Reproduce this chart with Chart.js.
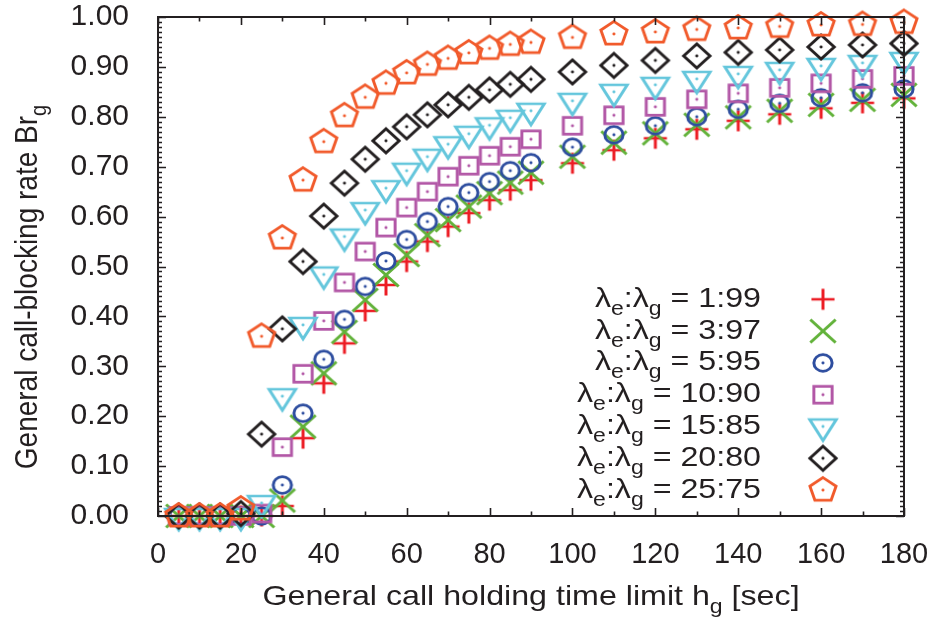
<!DOCTYPE html>
<html>
<head>
<meta charset="utf-8">
<script src="https://cdn.jsdelivr.net/npm/chart.js@4.4.1/dist/chart.umd.min.js"></script>
<style>
  html, body { margin: 0; padding: 0; background: #fff; }
  canvas { display: block; }
</style>
</head>
<body>
<canvas id="myChart" width="938" height="619"></canvas>
<script>
// holding time limit h_g [sec]
const holdLimits = [5, 10, 15, 20, 25, 30, 35, 40, 45, 50, 55, 60, 65, 70, 75, 80, 85, 90,
                    100, 110, 120, 130, 140, 150, 160, 170, 180];

// blocking rate Br_g for each λe:λg ratio
const br1_99  = [0, 0, 0, 0, 0, 0.020, 0.156, 0.266, 0.346, 0.411, 0.463, 0.510, 0.550, 0.580, 0.607, 0.633, 0.653, 0.673,
                 0.707, 0.733, 0.757, 0.775, 0.792, 0.805, 0.817, 0.828, 0.837];
const br3_97  = [0, 0, 0, 0, 0, 0.031, 0.179, 0.286, 0.369, 0.433, 0.483, 0.523, 0.563, 0.593, 0.620, 0.647, 0.668, 0.688,
                 0.720, 0.748, 0.767, 0.784, 0.799, 0.812, 0.824, 0.834, 0.844];
const br5_95  = [0, 0, 0, 0, 0, 0.062, 0.206, 0.314, 0.394, 0.460, 0.511, 0.554, 0.590, 0.620, 0.648, 0.670, 0.692, 0.708,
                 0.739, 0.764, 0.782, 0.800, 0.815, 0.827, 0.838, 0.848, 0.856];
const br10_90 = [0, 0, 0, 0, 0.005, 0.138, 0.285, 0.391, 0.468, 0.530, 0.578, 0.618, 0.650, 0.680, 0.702, 0.722, 0.740, 0.755,
                 0.782, 0.803, 0.820, 0.835, 0.847, 0.858, 0.867, 0.876, 0.882];
const br15_85 = [0, 0, 0, 0, 0.026, 0.240, 0.383, 0.484, 0.560, 0.613, 0.657, 0.692, 0.720, 0.745, 0.766, 0.783, 0.798, 0.812,
                 0.832, 0.850, 0.864, 0.876, 0.886, 0.894, 0.902, 0.908, 0.914];
const br20_80 = [0, 0, 0, 0.005, 0.164, 0.375, 0.510, 0.601, 0.667, 0.715, 0.752, 0.780, 0.804, 0.824, 0.839, 0.854, 0.865, 0.875,
                 0.890, 0.903, 0.913, 0.922, 0.929, 0.934, 0.940, 0.944, 0.947];
const br25_75 = [0, 0, 0, 0.014, 0.360, 0.557, 0.673, 0.750, 0.802, 0.839, 0.867, 0.888, 0.905, 0.917, 0.928, 0.937, 0.945, 0.949,
                 0.959, 0.966, 0.970, 0.975, 0.978, 0.981, 0.984, 0.985, 0.989];

const ratios  = ['1:99', '3:97', '5:95', '10:90', '15:85', '20:80', '25:75'];
const series  = [br1_99, br3_97, br5_95, br10_90, br15_85, br20_80, br25_75];
const shapes  = ['plus', 'cross', 'circle', 'square', 'triangle', 'diamond', 'pentagon'];
const colors  = ['#ec1c24', '#62b23a', '#2d4d9f', '#b257a6', '#64c6dc', '#231f20', '#f15a2b'];

const FONT = '"Liberation Sans", Arial, Helvetica, sans-serif';
const WIDE = 1.1;        // marker / rotated glyph aspect
const TEXT_WIDE = 1.15;  // horizontal titles and key text run a bit wide
const INK = '#231f20';

// gnuplot-like point symbols, drawn once into small canvases
function makeMarker(kind, color) {
  const c = document.createElement('canvas');
  c.width = 44; c.height = 44;
  const g = c.getContext('2d');
  g.translate(22, 22);
  g.scale(WIDE, 1);
  g.strokeStyle = color;
  g.fillStyle = color;
  g.lineWidth = 2.7;
  g.lineJoin = 'miter';
  g.beginPath();
  const poly = (n, r, a0) => {
    for (let i = 0; i < n; i++) {
      const a = a0 + i * 2 * Math.PI / n;
      if (i === 0) g.moveTo(r * Math.cos(a), r * Math.sin(a));
      else g.lineTo(r * Math.cos(a), r * Math.sin(a));
    }
    g.closePath();
  };
  switch (kind) {
    case 'plus':
      g.moveTo(-10.5, 0); g.lineTo(10.5, 0);
      g.moveTo(0, -10.5); g.lineTo(0, 10.5);
      break;
    case 'cross':
      g.moveTo(-11.5, -11.5); g.lineTo(11.5, 11.5);
      g.moveTo(-11.5, 11.5); g.lineTo(11.5, -11.5);
      break;
    case 'circle':
      g.arc(0, 0, 8.3, 0, Math.PI * 2);
      break;
    case 'square':
      g.rect(-8.3, -8.3, 16.6, 16.6);
      break;
    case 'triangle':
      poly(3, 14, Math.PI / 2);
      break;
    case 'diamond':
      poly(4, 12, -Math.PI / 2);
      break;
    case 'pentagon':
      poly(5, 12.5, -Math.PI / 2);
      break;
  }
  g.stroke();
  if (kind !== 'plus' && kind !== 'cross') {
    g.beginPath();
    g.arc(0, 0, 1.4, 0, Math.PI * 2);
    g.fill();
  }
  return c;
}

const markers = shapes.map((s, i) => makeMarker(s, colors[i]));

// text with subscripts: parts = [[text, isSub], ...]
function richWidth(ctx, parts, size) {
  let w = 0;
  for (const [t, sub] of parts) {
    ctx.font = (sub ? Math.round(size * 0.72) : size) + 'px ' + FONT;
    w += ctx.measureText(t).width;
  }
  return w;
}
function drawRich(ctx, parts, size, x, y) {
  for (const [t, sub] of parts) {
    ctx.font = (sub ? Math.round(size * 0.72) : size) + 'px ' + FONT;
    ctx.fillText(t, x, sub ? y + 8 : y);
    x += ctx.measureText(t).width;
  }
}

const decorPlugin = {
  id: 'decor',
  afterDatasetsDraw(chart) {
    const { ctx, chartArea: a, scales: { x, y } } = chart;
    ctx.save();
    ctx.strokeStyle = INK;
    ctx.lineWidth = 1.6;
    ctx.beginPath();
    // inward ticks on all four sides
    for (let v = 0; v <= 180; v += 10) {
      const px = Math.round(x.getPixelForValue(v)) + 0.5;
      const len = v % 20 === 0 ? 8 : 4.5;
      ctx.moveTo(px, a.bottom); ctx.lineTo(px, a.bottom - len);
      ctx.moveTo(px, a.top); ctx.lineTo(px, a.top + len);
    }
    for (let k = 0; k <= 100; k++) {
      const py = Math.round(y.getPixelForValue(k / 100)) + 0.5;
      const len = k % 10 === 0 ? 8 : 4;
      ctx.moveTo(a.left, py); ctx.lineTo(a.left + len, py);
      ctx.moveTo(a.right, py); ctx.lineTo(a.right - len, py);
    }
    ctx.stroke();
    ctx.lineWidth = 2;
    ctx.strokeRect(a.left, a.top, a.right - a.left, a.bottom - a.top);
    ctx.restore();
  },
  afterDraw(chart) {
    const { ctx, chartArea: a } = chart;
    ctx.save();
    ctx.fillStyle = INK;
    ctx.textBaseline = 'alphabetic';
    ctx.textAlign = 'left';

    // x axis title
    const xt = [['General call holding time limit h', false], ['g', true], [' [sec]', false]];
    ctx.save();
    ctx.translate((a.left + a.right) / 2, 605);
    ctx.scale(TEXT_WIDE, 1);
    drawRich(ctx, xt, 28, -richWidth(ctx, xt, 28) / 2, 0);
    ctx.restore();

    // y axis title
    const yt = [['General call-blocking rate Br', false], ['g', true]];
    ctx.save();
    ctx.translate(37, 287);
    ctx.scale(WIDE, 1);
    ctx.rotate(-Math.PI / 2);
    drawRich(ctx, yt, 28, -richWidth(ctx, yt, 28) / 2, 0);
    ctx.restore();

    // key, bottom right inside the frame
    ratios.forEach((r, i) => {
      const cy = 299.3 + i * 31.8;
      const parts = [['λ', false], ['e', true], [':λ', false], ['g', true], [' = ' + r, false]];
      ctx.save();
      ctx.translate(761, cy + 7.5);
      ctx.scale(TEXT_WIDE, 1);
      drawRich(ctx, parts, 28, -richWidth(ctx, parts, 28), 0);
      ctx.restore();
      const m = markers[i];
      ctx.drawImage(m, 823 - m.width / 2, cy - m.height / 2);
    });
    ctx.restore();
  }
};

new Chart(document.getElementById('myChart'), {
  type: 'scatter',
  data: {
    datasets: series.map((vals, i) => ({
      label: 'λe:λg = ' + ratios[i],
      data: holdLimits.map((h, j) => ({ x: h, y: vals[j] })),
      pointStyle: markers[i],
      showLine: false,
      clip: false,
      order: series.length - i
    }))
  },
  options: {
    responsive: false,
    animation: false,
    devicePixelRatio: 1,
    layout: { padding: { left: 0, top: 17, right: 34, bottom: 0 } },
    plugins: {
      legend: { display: false },
      tooltip: { enabled: false }
    },
    scales: {
      x: {
        type: 'linear',
        min: 0,
        max: 180,
        grid: { display: false },
        border: { display: false },
        ticks: {
          stepSize: 20,
          padding: 14,
          color: INK,
          font: { family: FONT, size: 29 }
        },
        afterFit: s => {
          s.height = 103;
          s.paddingLeft = 0;
          s.paddingRight = 0;
        }
      },
      y: {
        min: 0,
        max: 1,
        grid: { display: false },
        border: { display: false },
        ticks: {
          stepSize: 0.1,
          padding: 21,
          color: INK,
          font: { family: FONT, size: 30 },
          callback: v => v.toFixed(2)
        },
        afterFit: s => {
          s.width = 158;
          s.paddingTop = 0;
          s.paddingBottom = 0;
        }
      }
    }
  },
  plugins: [decorPlugin]
});
</script>
</body>
</html>
